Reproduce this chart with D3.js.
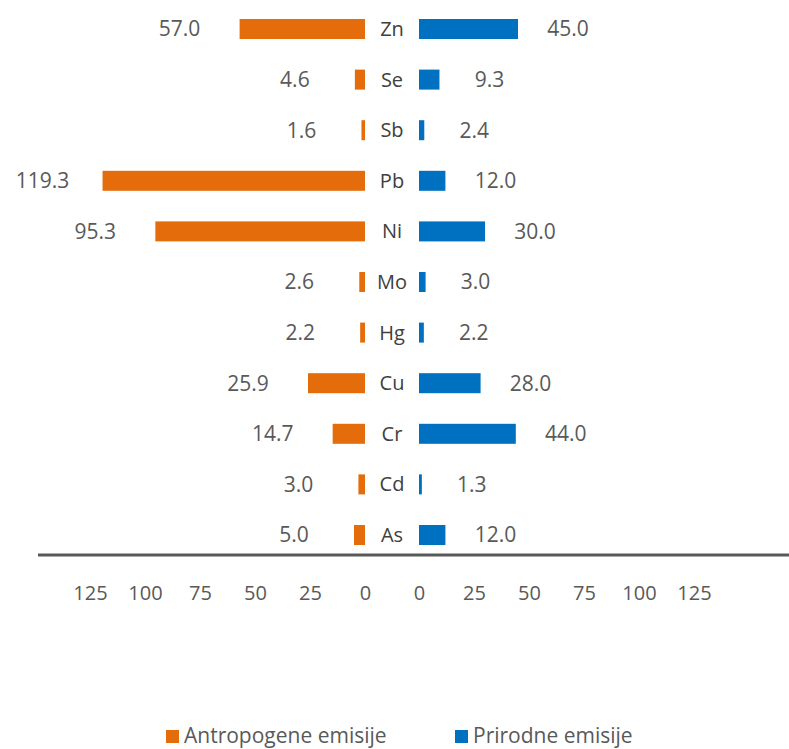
<!DOCTYPE html>
<html>
<head>
<meta charset="utf-8">
<script src="https://cdn.jsdelivr.net/npm/d3@7"></script>
<style>
  body { margin: 0; background: #fff; }
  text { font-family: "Open Sans", "Noto Sans", sans-serif; }
</style>
</head>
<body>
<div id="chart"></div>
<script>
var elements = ["Zn", "Se", "Sb", "Pb", "Ni", "Mo", "Hg", "Cu", "Cr", "Cd", "As"];
var antropogene = [57.0, 4.6, 1.6, 119.3, 95.3, 2.6, 2.2, 25.9, 14.7, 3.0, 5.0];
var prirodne = [45.0, 9.3, 2.4, 12.0, 30.0, 3.0, 2.2, 28.0, 44.0, 1.3, 12.0];
var tickValues = [0, 25, 50, 75, 100, 125];
var seriesNames = ["Antropogene emisije", "Prirodne emisije"];

var W = 789, H = 749;
var orange = "#E46C0A", blue = "#0070C0";

var svg = d3.select("#chart").append("svg").attr("width", W).attr("height", H);

var xL = d3.scaleLinear().domain([0, 125]).range([365, 90]);
var xR = d3.scaleLinear().domain([0, 125]).range([419, 694]);
var y = d3.scalePoint().domain(elements).range([29, 535]);
var barH = 20;

var rows = elements.map(function(e, i) { return {el: e, a: antropogene[i], p: prirodne[i]}; });

// left bars
svg.selectAll(".barL").data(rows).enter().append("rect")
  .attr("x", function(d) { return xL(d.a); })
  .attr("y", function(d) { return y(d.el) - barH / 2; })
  .attr("width", function(d) { return xL(0) - xL(d.a); })
  .attr("height", barH)
  .attr("fill", orange);

// right bars
svg.selectAll(".barR").data(rows).enter().append("rect")
  .attr("x", xR(0))
  .attr("y", function(d) { return y(d.el) - barH / 2; })
  .attr("width", function(d) { return xR(d.p) - xR(0); })
  .attr("height", barH)
  .attr("fill", blue);

// category labels
svg.selectAll(".cat").data(rows).enter().append("text")
  .attr("x", (xL(0) + xR(0)) / 2)
  .attr("y", function(d) { return y(d.el); })
  .attr("dy", "0.35em")
  .attr("text-anchor", "middle")
  .attr("font-size", 20)
  .attr("fill", "#404040")
  .text(function(d) { return d.el; });

// value labels
svg.selectAll(".valL").data(rows).enter().append("text")
  .attr("x", function(d) { return xL(d.a) - 60; })
  .attr("y", function(d) { return y(d.el); })
  .attr("dy", "0.35em")
  .attr("text-anchor", "middle")
  .attr("font-size", 21)
  .attr("fill", "#595959")
  .text(function(d) { return d.a.toFixed(1); });

svg.selectAll(".valR").data(rows).enter().append("text")
  .attr("x", function(d) { return xR(d.p) + 50; })
  .attr("y", function(d) { return y(d.el); })
  .attr("dy", "0.35em")
  .attr("text-anchor", "middle")
  .attr("font-size", 21)
  .attr("fill", "#595959")
  .text(function(d) { return d.p.toFixed(1); });

// axis line
svg.append("line").attr("x1", 38).attr("x2", W).attr("y1", 555).attr("y2", 555)
  .attr("stroke", "#595959").attr("stroke-width", 3);

// axes (tick labels only)
var axL = svg.append("g").attr("transform", "translate(0,583)")
  .call(d3.axisBottom(xL).tickValues(tickValues).tickSize(0));
var axR = svg.append("g").attr("transform", "translate(0,583)")
  .call(d3.axisBottom(xR).tickValues(tickValues).tickSize(0));
[axL, axR].forEach(function(ax) {
  ax.select(".domain").remove();
  ax.selectAll("text").attr("font-size", 20).attr("fill", "#595959")
    .attr("font-family", "'Open Sans', 'Noto Sans', sans-serif");
});

// legend
var legend = svg.append("g").attr("transform", "translate(0,736)");
var legX = [166, 455];
seriesNames.forEach(function(name, i) {
  legend.append("rect").attr("x", legX[i]).attr("y", -6).attr("width", 13).attr("height", 13)
    .attr("fill", i === 0 ? orange : blue);
  legend.append("text").attr("x", legX[i] + 18).attr("y", 0).attr("dy", "0.35em")
    .attr("font-size", 21).attr("fill", "#595959").text(name);
});
</script>
</body>
</html>
